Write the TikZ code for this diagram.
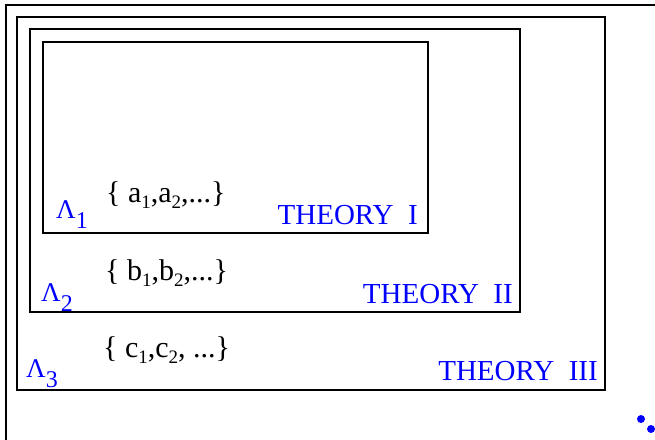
\documentclass[tikz,border=0pt]{standalone}
\usepackage{fontspec}
\setmainfont{Liberation Serif}
\usepackage{xcolor}
\newcommand{\ssub}[1]{\raisebox{-.2em}{\fontsize{19}{19}\selectfont #1}}
\newcommand{\Lsub}[1]{\raisebox{-.38em}{\fontsize{24}{24}\selectfont #1}}
\begin{document}
\begin{tikzpicture}[
    x=1pt,y=-1pt,
    box/.style={draw=black,line width=2.5pt},
    set/.style={anchor=base west,inner sep=0pt,font=\fontsize{30}{31}\selectfont},
    lam/.style={anchor=base west,inner sep=0pt,text=blue,font=\fontsize{27}{28}\selectfont},
    th/.style={anchor=base east,inner sep=0pt,text=blue,font=\fontsize{29}{30}\selectfont}
  ]
    \useasboundingbox (0,0) rectangle (655,439);
    \clip (0,0) rectangle (655,439);
    % nested theories
    \draw[box] (6,5) rectangle (680,470);
    \draw[box] (17,17) rectangle (605,390);
    \draw[box] (30,29) rectangle (520,312);
    \draw[box] (43,42) rectangle (428,233);
    % labels
    \node[lam] (l1) at (56,218) {Λ\Lsub{1}}; \node[set] (s1) at (106,202) {\{ a\ssub{1},a\ssub{2},...\}};
    \node[lam] (l2) at (41,301) {Λ\Lsub{2}}; \node[set] (s2) at (105,280) {\{ b\ssub{1},b\ssub{2},...\}};
    \node[lam] (l3) at (26,377) {Λ\Lsub{3}}; \node[set] (s3) at (103,357) {\{ c\ssub{1},c\ssub{2}, ...\}};
    \node[th] (t1) at (418,224) {THEORY\ \ I};
    \node[th] (t2) at (513,303) {THEORY\ \ II};
    \node[th] (t3) at (598,380) {THEORY\ \ III};
    % more theories
    \foreach \p in {(641,419),(651,429)} {\fill[blue] \p circle (4);}
\end{tikzpicture}
\end{document}
